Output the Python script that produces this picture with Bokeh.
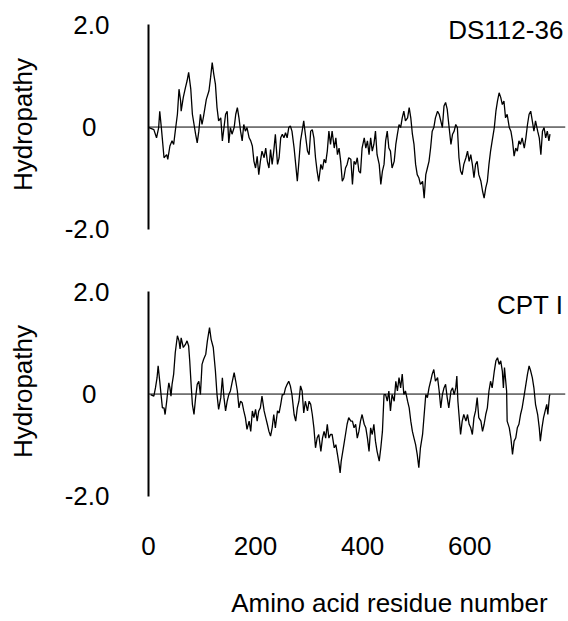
from bokeh.plotting import figure
from bokeh.layouts import column
from bokeh.models import Span, Label, FixedTicker, Range1d
from bokeh.embed import file_html
from bokeh.resources import INLINE

# ---- data ----
ds_residue = [1, 10, 15, 19, 21, 24, 29, 34, 36, 40, 44, 47, 50, 54, 57, 60, 61, 65, 69, 72,
              75, 79, 82, 88, 91, 94, 97, 100, 103, 108, 113, 116, 119, 122, 125, 128, 131, 135, 138, 141,
              144, 147, 150, 153, 156, 160, 163, 166, 169, 172, 175, 178, 181, 184, 188, 191, 194, 197, 200, 203,
              206, 209, 212, 216, 219, 222, 225, 228, 231, 234, 237, 241, 244, 247, 250, 253, 256, 259, 262, 265,
              268, 272, 275, 278, 281, 284, 287, 290, 293, 297, 300, 303, 306, 309, 312, 315, 318, 322, 325, 328,
              331, 334, 337, 340, 343, 347, 350, 353, 356, 359, 362, 365, 368, 371, 374, 378,
              381, 384, 387, 390, 393, 396, 399, 403, 406, 409, 412, 415, 418, 421, 424, 427, 431, 434, 437, 440,
              443, 446, 449, 452, 455, 459, 462, 465, 468, 471, 474, 477, 480, 484, 487, 490, 493, 496, 499, 502,
              505, 508, 512, 515, 518, 521, 524, 527, 530, 533, 536, 540, 543, 546, 549, 552, 555, 558, 561, 565,
              568, 571, 574, 577, 580, 583, 586, 589, 593, 596, 599, 602, 605, 608, 611, 614, 617, 621, 624, 627,
              630, 633, 636, 639, 642, 646, 649, 652, 655, 658, 661, 664, 667, 670, 674, 677, 680, 683, 686, 689,
              692, 695, 698, 702, 705, 708, 711, 714, 717, 720, 723, 727, 730, 733, 736, 739, 742, 745, 748, 750]
ds_hydropathy = [-0.01, -0.05, -0.21, -0.01, 0.31, -0.01, -0.60, -0.54, -0.63, -0.37, -0.27, -0.34, -0.08, 0.25, 0.74, 0.51, 0.31, 0.58, 0.77, 0.90,
                 1.07, 0.74, 0.25, -0.14, -0.31, -0.08, 0.25, 0.05, 0.22, 0.54, 0.71, 0.97, 1.26, 1.03, 0.84, 0.38, 0.12, 0.18, -0.27, -0.01,
                 0.25, 0.31, -0.31, -0.01, -0.14, -0.01, 0.25, 0.38, 0.18, -0.08, -0.27, 0.05, -0.08, -0.01, -0.21, -0.27, -0.37, -0.67, -0.80, -0.57,
                 -0.93, -0.67, -0.47, -0.60, -0.41, -0.67, -0.80, -0.44, -0.73, -0.47, -0.14, -0.73, -0.60, -0.21, -0.14, -0.21, -0.11, -0.21, -0.01, 0.02,
                 -0.08, -0.41, -0.73, -1.06, -0.67, -0.27, -0.08, 0.12, -0.14, -0.47, -0.54, -0.08, -0.05, -0.21, -0.60, -0.86, -1.06, -0.73, -0.83, -0.63,
                 -0.70, -0.47, -0.08, -0.34, -0.08, -0.41, -0.21, -0.54, -0.41, -0.67, -1.06, -0.99, -0.80, -0.73, -0.60, -0.63,
                 -1.12, -0.67, -0.73, -0.60, -0.86, -0.90, -0.41, -0.21, -0.41, -0.27, -0.54, -0.21, -0.47, -0.34, -0.08, -0.54, -0.73, -1.12, -0.86, -0.73,
                 -0.27, -0.08, -0.41, -0.47, -0.80, -0.67, -0.34, -0.14, 0.05, -0.01, 0.18, 0.31, 0.12, 0.18, 0.38, 0.18, -0.14, -0.34, -0.73, -0.93,
                 -0.99, -1.12, -1.06, -1.39, -0.93, -0.80, -0.67, -0.41, -0.08, -0.01, 0.18, 0.31, 0.25, 0.12, -0.01, 0.41, 0.48, 0.35, 0.05, -0.34,
                 -0.14, -0.08, 0.05, -0.01, -0.60, -0.86, -0.93, -0.73, -0.60, -0.47, -0.67, -0.54, -0.73, -0.99, -0.73, -0.67, -0.93, -1.06, -1.25, -1.39,
                 -1.19, -1.06, -0.73, -0.47, -0.27, -0.01, 0.31, 0.51, 0.67, 0.58, 0.44, 0.51, 0.18, 0.25, -0.01, -0.08, -0.27, -0.57, -0.41, -0.47,
                 -0.27, -0.34, -0.21, -0.41, -0.21, 0.05, 0.25, 0.31, 0.12, -0.08, 0.12, -0.08, -0.21, -0.54, -0.08, -0.01, -0.21, -0.08, -0.27, -0.14]

cpt_residue = [4, 10, 13, 16, 18, 21, 24, 26, 29, 31, 34, 36, 38, 40, 42, 44, 47, 50, 54, 57,
               59, 61, 65, 69, 72, 75, 77, 80, 82, 85, 88, 91, 94, 97, 100, 103, 107, 110, 114, 117,
               121, 125, 128, 131, 135, 138, 141, 144, 147, 150, 153, 156, 160, 163, 166, 169, 172, 175, 178, 181,
               184, 188, 191, 194, 197, 200, 203, 206, 209, 212, 216, 219, 222, 225, 228, 231, 234, 237, 241, 244,
               247, 250, 253, 256, 259, 262, 265, 268, 272, 275, 278, 281, 284, 287, 290, 293, 297, 300, 303, 306,
               309, 312, 315, 318, 322, 325, 328, 331, 334, 337, 340, 343, 347, 350, 353, 356, 358, 360, 365, 368,
               371, 374, 378,
               381, 384, 387, 390, 393, 396, 399, 403, 406, 409, 412, 415, 418, 421, 424, 427, 431, 434, 437, 440,
               443, 446, 449, 452, 455, 459, 462, 465, 468, 471, 474, 477, 480, 484, 487, 490, 493, 496, 499, 502,
               505, 508, 512, 515, 518, 521, 524, 527, 530, 533, 536, 540, 543, 546, 549, 552, 555, 558, 561, 565,
               568, 571, 574, 576, 578, 580, 583, 586, 589, 593, 596, 599, 602, 605, 608, 611, 614, 617, 621, 624,
               627, 630, 633, 636, 639, 642, 646, 649, 652, 655, 658, 661, 663, 665, 669, 670, 674, 677, 680, 683,
               686, 689, 692, 695, 698, 702, 705, 708, 711, 714, 717, 720, 723, 727, 730, 732, 735, 738, 741, 744,
               746, 749, 750]
cpt_hydropathy = [-0.01, -0.04, 0.12, 0.32, 0.55, 0.25, -0.07, -0.27, -0.27, -0.40, -0.14, 0.06, 0.22, 0.12, -0.04, 0.19, 0.39, 0.81, 1.14, 1.04,
                  0.88, 1.10, 0.91, 0.97, 1.04, 0.94, 0.65, 0.12, -0.20, -0.40, -0.07, 0.19, 0.25, -0.01, 0.58, 0.68, 0.78, 1.04, 1.30, 1.07,
                  0.91, 0.45, -0.01, -0.30, -0.07, 0.32, -0.07, -0.33, -0.14, -0.01, 0.06, 0.22, 0.42, 0.25, 0.06, -0.27, -0.14, -0.17, -0.33, -0.46,
                  -0.69, -0.53, -0.73, -0.33, -0.46, -0.30, -0.53, -0.33, -0.27, -0.04, -0.33, -0.46, -0.59, -0.73, -0.82, -0.66, -0.40, -0.66, -0.33, -0.37,
                  -0.20, -0.01, -0.01, 0.12, 0.19, 0.25, 0.16, -0.01, -0.40, -0.53, -0.27, -0.14, 0.16, 0.06, -0.37, -0.14, -0.33, -0.14, -0.20, -0.40,
                  -0.66, -1.05, -0.86, -0.79, -1.12, -0.86, -0.73, -0.86, -0.59, -0.86, -0.79, -0.79, -1.05, -0.99, -1.18, -1.38, -1.54, -1.31, -0.99, -0.79,
                  -0.59, -0.46, -0.53,
                  -0.53, -0.66, -0.59, -0.86, -0.73, -0.53, -0.40, -0.59, -0.66, -0.86, -1.12, -0.66, -0.79, -0.59, -0.92, -1.12, -1.31, -1.05, -0.73, -0.01,
                  -0.01, -0.14, 0.06, -0.33, -0.01, -0.14, 0.25, 0.06, 0.32, 0.12, 0.39, -0.01, 0.06, -0.14, -0.27, -0.53, -0.73, -0.86, -0.99, -1.18,
                  -1.44, -1.05, -0.79, -0.40, -0.01, -0.07, 0.12, 0.25, 0.39, 0.48, 0.25, 0.32, 0.06, -0.27, -0.01, 0.12, 0.19, -0.07, -0.27, 0.06,
                  0.12, -0.01, 0.12, 0.35, -0.14, -0.40, -0.79, -0.53, -0.40, -0.53, -0.40, -0.59, -0.66, -0.79, -0.46, -0.33, -0.07, -0.46, -0.53, -0.73,
                  -0.59, -0.40, -0.27, 0.06, 0.25, 0.12, 0.45, 0.65, 0.71, 0.58, 0.65, 0.45, 0.12, 0.52, 0.06, -0.53, -0.66, -0.86, -1.18, -0.92,
                  -0.86, -0.66, -0.59, -0.40, -0.27, -0.01, 0.19, 0.39, 0.55, 0.45, 0.32, 0.12, -0.20, -0.40, -0.66, -0.92, -0.66, -0.46, -0.33, -0.20,
                  -0.40, -0.04, -0.01]

x_ticks = [0, 200, 400, 600]
y_ticks = [-2.0, 0.0, 2.0]
y_tick_labels = {-2.0: "-2.0", 0.0: "0\u2002", 2.0: "2.0"}
panel_names = ["DS112-36", "CPT I"]
x_title = "Amino acid residue number"
y_title = "Hydropathy"

FONT = "Liberation Sans"
W = 568
X_END = 779
Y_LOW, Y_HIGH = -2.1, 2.2


def style_common(p):
    p.toolbar.logo = None
    p.grid.visible = False
    p.outline_line_color = None
    p.background_fill_color = "white"
    p.border_fill_color = "white"
    ya = p.yaxis[0]
    ya.bounds = (-2, 2)
    ya.ticker = FixedTicker(ticks=y_ticks)
    ya.major_label_overrides = y_tick_labels
    ya.axis_line_width = 2
    ya.axis_line_color = "black"
    ya.major_tick_line_color = None
    ya.minor_tick_line_color = None
    ya.major_tick_out = 0
    ya.major_label_text_font = FONT
    ya.major_label_text_font_size = "26px"
    ya.major_label_text_color = "black"
    ya.major_label_standoff = 39
    ya.axis_label = y_title
    ya.axis_label_text_font = FONT
    ya.axis_label_text_font_size = "26px"
    ya.axis_label_text_font_style = "normal"
    ya.axis_label_text_color = "black"
    ya.axis_label_standoff = 24
    p.add_layout(Span(location=0, dimension="width", line_color="black", line_width=1))


top = figure(width=W, height=260, x_range=Range1d(0, X_END), y_range=Range1d(Y_LOW, Y_HIGH),
             x_axis_location=None, toolbar_location=None, output_backend="svg",
             min_border_left=148, min_border_right=3, min_border_top=14, min_border_bottom=26)
style_common(top)
top.line(ds_residue, ds_hydropathy, line_color="black", line_width=1.3)
top.add_layout(Label(x=775, y=1.9, text=panel_names[0], text_align="right", text_baseline="middle",
                     text_font=FONT, text_font_size="26px", text_color="black"))

bot = figure(width=W, height=315, x_range=Range1d(0, X_END), y_range=Range1d(Y_LOW, Y_HIGH),
             toolbar_location=None, output_backend="svg",
             min_border_left=148, min_border_right=3, min_border_top=21, min_border_bottom=74)
style_common(bot)
bot.line(cpt_residue, cpt_hydropathy, line_color="black", line_width=1.3)
bot.add_layout(Label(x=775, y=1.75, text=panel_names[1], text_align="right", text_baseline="middle",
                     text_font=FONT, text_font_size="26px", text_color="black"))
xa = bot.xaxis[0]
xa.ticker = FixedTicker(ticks=x_ticks)
xa.axis_line_color = None
xa.major_tick_line_color = None
xa.minor_tick_line_color = None
xa.major_tick_out = 0
xa.major_label_text_font = FONT
xa.major_label_text_font_size = "26px"
xa.major_label_text_color = "black"
xa.major_label_standoff = 35

# strip holding the shared x-axis title; its frame lines up with the plots above
cap = figure(width=W, height=44, x_range=Range1d(0, X_END), y_range=Range1d(0, 44),
             x_axis_location=None, y_axis_location=None, toolbar_location=None,
             output_backend="svg", min_border_left=148, min_border_right=3,
             min_border_top=0, min_border_bottom=0)
cap.toolbar.logo = None
cap.grid.visible = False
cap.outline_line_color = None
cap.add_layout(Label(x=450, y=17, text=x_title, text_align="center", text_baseline="middle",
                     text_font=FONT, text_font_size="26px", text_color="black"))

layout = column(top, bot, cap, spacing=0)
open("out.html", "w").write(file_html(layout, INLINE))
